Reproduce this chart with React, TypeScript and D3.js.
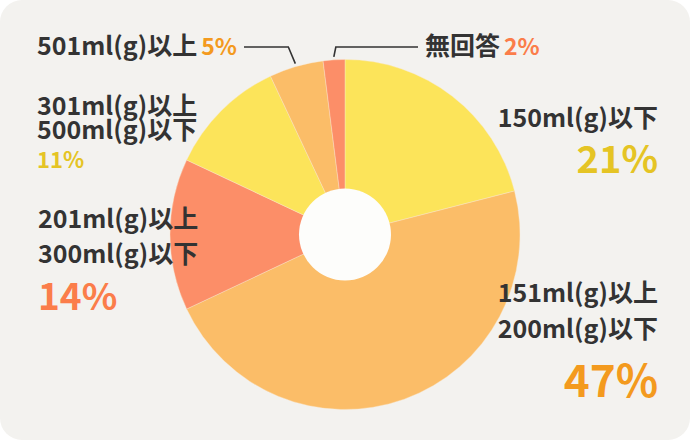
import React from 'react';
import * as d3 from 'd3';

// chart data
const categories = [
    '150ml(g)以下',
    '151ml(g)以上\n200ml(g)以下',
    '201ml(g)以上\n300ml(g)以下',
    '301ml(g)以上\n500ml(g)以下',
    '501ml(g)以上',
    '無回答',
];
const values = [21, 47, 14, 11, 5, 2];

const sliceColors = ['#fce45a', '#fbbd68', '#fc8e68', '#fce45a', '#fbbd68', '#fc8e68'];
const pctColors = ['#e5c424', '#f39a1e', '#fb7d4a', '#e5c424', '#f39a1e', '#fb7d4a'];

const width = 690;
const height = 440;
const cx = 345;
const cy = 234.5;
const outerR = 175;
const holeR = 46;
const font = '"Noto Sans CJK JP", "Noto Sans", sans-serif';
const textColor = '#333333';

type LabelLayout = {
    x: number;
    y: number;
    anchor: 'start' | 'end';
    lineGap: number;
    labelSize: number;
    pctSize: number;
    pctGap: number;
    inline?: boolean;
};

// label placement per category
const layout: LabelLayout[] = [
    { x: 658, y: 127, anchor: 'end', lineGap: 35, labelSize: 25, pctSize: 38, pctGap: 46 },
    { x: 658, y: 302, anchor: 'end', lineGap: 36, labelSize: 25, pctSize: 44, pctGap: 59 },
    { x: 38, y: 228, anchor: 'start', lineGap: 35, labelSize: 25, pctSize: 37, pctGap: 47 },
    { x: 37, y: 114.5, anchor: 'start', lineGap: 24, labelSize: 25, pctSize: 22, pctGap: 29 },
    { x: 37, y: 55, anchor: 'start', lineGap: 0, labelSize: 25, pctSize: 23, pctGap: 0, inline: true },
    { x: 425, y: 55, anchor: 'start', lineGap: 0, labelSize: 25, pctSize: 23, pctGap: 0, inline: true },
];

const App: React.FC = () => {
    const pie = d3.pie<number>().sort(null).value(d => d).startAngle(0).endAngle(2 * Math.PI);
    const arcs = pie(values);
    const arc = d3.arc<d3.PieArcDatum<number>>().innerRadius(0).outerRadius(outerR);

    // leader lines for the two small slices
    const leader = (i: number, textEnd: number, toLeft: boolean) => {
        const a = arcs[i];
        const mid = (a.startAngle + a.endAngle) / 2;
        const r = outerR + 3;
        const px = cx + Math.sin(mid) * r;
        const py = cy - Math.cos(mid) * r;
        const ly = 47;
        const kx = px + (toLeft ? 2 : -7);
        return `M${textEnd},${ly}L${kx},${ly}L${px},${py}`;
    };

    return (
        <svg width={width} height={height} style={{ display: 'block', position: 'absolute', left: 0, top: 0 }}>
            <rect x={0} y={0} width={width} height={height} rx={22} fill="#f3f2ef" />
            <g transform={`translate(${cx},${cy})`}>
                {arcs.map((a, i) => (
                    <path key={i} d={arc(a) || ''} fill={sliceColors[i]} stroke="#fbe9d0" strokeWidth={0.4} />
                ))}
                <circle r={holeR} fill="#fdfdfb" />
            </g>
            <path d={leader(4, 244, false)} fill="none" stroke={textColor} strokeWidth={1.6} />
            <path d={leader(5, 418, true)} fill="none" stroke={textColor} strokeWidth={1.6} />
            {categories.map((c, i) => {
                const l = layout[i];
                const lines = c.split('\n');
                if (l.inline) {
                    return (
                        <text key={i} x={l.x} y={l.y} fontFamily={font} fontWeight={700} fill={textColor} fontSize={l.labelSize}>
                            {c}
                            <tspan fill={pctColors[i]} fontSize={l.pctSize} dx={4}>{values[i]}%</tspan>
                        </text>
                    );
                }
                return (
                    <g key={i} fontFamily={font} fontWeight={700} textAnchor={l.anchor}>
                        {lines.map((t, j) => (
                            <text key={j} x={l.x} y={l.y + j * l.lineGap} fill={textColor} fontSize={l.labelSize}>{t}</text>
                        ))}
                        <text
                            x={l.x}
                            y={l.y + (lines.length - 1) * l.lineGap + l.pctGap}
                            fill={pctColors[i]}
                            fontSize={l.pctSize}
                        >
                            {values[i]}%
                        </text>
                    </g>
                );
            })}
        </svg>
    );
};

export default App;
